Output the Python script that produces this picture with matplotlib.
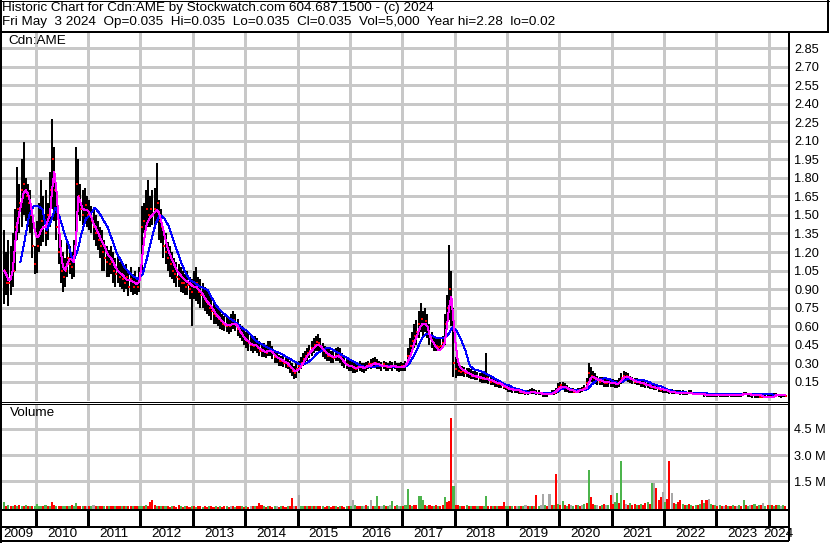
import numpy as np
import matplotlib
matplotlib.use('Agg')
import matplotlib.pyplot as plt
from matplotlib.lines import Line2D

plt.rcParams['font.family'] = ['Liberation Sans', 'DejaVu Sans']

# ---- data, semi-monthly bars from late May 2009 to early May 2024 ----
first_half_month = 9   # index of first bar within 2009 (0 = early Jan)

high = [
    1.38, 1.20, 1.30, 1.25, 1.35, 1.55, 1.89, 1.75, 1.95, 2.09, 1.80, 1.75, 1.70, 1.50, 1.25,  # 2009
    1.45, 1.60, 1.78, 1.65, 1.70, 1.60, 1.85, 2.28, 2.05, 1.75, 1.45, 1.30, 1.20, 1.15, 1.27, 1.25, 1.20, 1.30, 2.05, 1.95, 1.75, 1.70, 1.72, 1.65,  # 2010
    1.62, 1.57, 1.55, 1.50, 1.45, 1.40, 1.38, 1.30, 1.25, 1.22, 1.25, 1.20, 1.15, 1.18, 1.12, 1.10, 1.08, 1.10, 1.05, 1.08, 1.02, 1.05, 1.00, 1.08,  # 2011
    1.57, 1.60, 1.70, 1.78, 1.65, 1.70, 1.72, 1.92, 1.62, 1.55, 1.40, 1.35, 1.28, 1.25, 1.20, 1.15, 1.12, 1.10, 1.08, 1.05, 1.02, 1.05, 1.00, 0.98,  # 2012
    1.05, 1.08, 1.00, 0.98, 0.95, 0.92, 0.90, 0.88, 0.85, 0.80, 0.78, 0.75, 0.72, 0.70, 0.68, 0.68, 0.66, 0.70, 0.72, 0.70, 0.66, 0.62, 0.60, 0.58,  # 2013
    0.55, 0.55, 0.52, 0.50, 0.52, 0.50, 0.48, 0.45, 0.46, 0.45, 0.48, 0.48, 0.44, 0.40, 0.38, 0.37, 0.36, 0.36, 0.35, 0.34, 0.32, 0.30, 0.28, 0.30,  # 2014
    0.32, 0.35, 0.38, 0.40, 0.42, 0.45, 0.48, 0.50, 0.52, 0.54, 0.50, 0.46, 0.44, 0.42, 0.42, 0.40, 0.40, 0.42, 0.43, 0.42, 0.38, 0.36, 0.34, 0.33,  # 2015
    0.33, 0.32, 0.30, 0.31, 0.32, 0.30, 0.30, 0.31, 0.32, 0.33, 0.34, 0.35, 0.33, 0.32, 0.31, 0.32, 0.31, 0.30, 0.32, 0.31, 0.32, 0.30, 0.30, 0.31,  # 2016
    0.30, 0.32, 0.42, 0.50, 0.55, 0.62, 0.65, 0.72, 0.79, 0.72, 0.75, 0.70, 0.62, 0.55, 0.52, 0.50, 0.50, 0.50, 0.52, 0.70, 0.85, 1.26, 1.05, 0.75,  # 2017
    0.35, 0.30, 0.28, 0.28, 0.27, 0.26, 0.26, 0.25, 0.24, 0.24, 0.23, 0.22, 0.22, 0.21, 0.38, 0.20, 0.19, 0.18, 0.17, 0.17, 0.16, 0.15, 0.14, 0.13,  # 2018
    0.12, 0.11, 0.11, 0.10, 0.10, 0.09, 0.09, 0.08, 0.08, 0.08, 0.09, 0.10, 0.09, 0.08, 0.08, 0.07, 0.07, 0.07, 0.07, 0.07, 0.08, 0.08, 0.10, 0.14,  # 2019
    0.15, 0.15, 0.14, 0.12, 0.11, 0.10, 0.10, 0.09, 0.10, 0.10, 0.11, 0.12, 0.18, 0.30, 0.27, 0.24, 0.22, 0.20, 0.19, 0.19, 0.18, 0.17, 0.18, 0.17,  # 2020
    0.17, 0.16, 0.16, 0.18, 0.22, 0.24, 0.23, 0.22, 0.20, 0.19, 0.18, 0.18, 0.17, 0.16, 0.16, 0.15, 0.14, 0.14, 0.13, 0.12, 0.12, 0.11, 0.10, 0.10,  # 2021
    0.10, 0.09, 0.09, 0.09, 0.08, 0.08, 0.08, 0.08, 0.08, 0.07, 0.07, 0.08, 0.08, 0.07, 0.07, 0.07, 0.06, 0.06, 0.06, 0.06, 0.06, 0.06, 0.06, 0.06,  # 2022
    0.05, 0.05, 0.05, 0.05, 0.05, 0.05, 0.05, 0.05, 0.05, 0.05, 0.05, 0.06, 0.07, 0.07, 0.06, 0.06, 0.05, 0.05, 0.05, 0.05, 0.04, 0.04, 0.04, 0.04,  # 2023
    0.05, 0.05, 0.06, 0.06, 0.05, 0.05, 0.05, 0.04,  # 2024
]

low = [
    0.78, 0.85, 0.76, 0.85, 0.92, 1.05, 1.30, 1.35, 1.40, 1.50, 1.45, 1.40, 1.35, 1.15, 1.02,  # 2009
    1.03, 1.20, 1.25, 1.28, 1.25, 1.30, 1.40, 1.55, 1.45, 1.30, 1.10, 0.95, 0.88, 0.92, 1.00, 1.02, 0.98, 1.00, 1.30, 1.50, 1.45, 1.42, 1.45, 1.40,  # 2010
    1.38, 1.35, 1.30, 1.25, 1.22, 1.15, 1.05, 1.05, 1.00, 1.00, 1.02, 0.95, 0.92, 0.95, 0.92, 0.90, 0.88, 0.90, 0.84, 0.88, 0.85, 0.86, 0.85, 0.88,  # 2011
    1.05, 1.35, 1.38, 1.40, 1.40, 1.42, 1.40, 1.45, 1.30, 1.27, 1.15, 1.10, 1.05, 1.00, 0.98, 0.95, 0.92, 0.92, 0.88, 0.87, 0.85, 0.85, 0.82, 0.60,  # 2012
    0.82, 0.80, 0.78, 0.75, 0.75, 0.72, 0.70, 0.68, 0.65, 0.62, 0.62, 0.60, 0.58, 0.57, 0.56, 0.55, 0.54, 0.55, 0.58, 0.56, 0.52, 0.50, 0.48, 0.45,  # 2013
    0.42, 0.40, 0.40, 0.38, 0.40, 0.38, 0.36, 0.35, 0.35, 0.34, 0.36, 0.36, 0.33, 0.30, 0.30, 0.28, 0.28, 0.27, 0.26, 0.25, 0.22, 0.20, 0.17, 0.18,  # 2014
    0.22, 0.25, 0.28, 0.30, 0.32, 0.34, 0.36, 0.38, 0.40, 0.40, 0.38, 0.35, 0.33, 0.32, 0.32, 0.30, 0.30, 0.32, 0.32, 0.30, 0.28, 0.26, 0.25, 0.24,  # 2015
    0.24, 0.22, 0.22, 0.23, 0.24, 0.23, 0.22, 0.24, 0.25, 0.25, 0.26, 0.26, 0.25, 0.25, 0.24, 0.25, 0.24, 0.24, 0.25, 0.24, 0.25, 0.24, 0.23, 0.24,  # 2016
    0.24, 0.24, 0.28, 0.34, 0.38, 0.42, 0.45, 0.50, 0.55, 0.52, 0.55, 0.50, 0.45, 0.42, 0.40, 0.40, 0.40, 0.40, 0.42, 0.45, 0.58, 0.65, 0.60, 0.19,  # 2017
    0.18, 0.20, 0.20, 0.20, 0.19, 0.19, 0.18, 0.17, 0.17, 0.16, 0.16, 0.15, 0.14, 0.14, 0.14, 0.13, 0.12, 0.12, 0.11, 0.11, 0.10, 0.10, 0.09, 0.08,  # 2018
    0.07, 0.07, 0.06, 0.06, 0.06, 0.05, 0.05, 0.05, 0.04, 0.04, 0.05, 0.05, 0.05, 0.04, 0.04, 0.04, 0.03, 0.03, 0.03, 0.04, 0.04, 0.04, 0.05, 0.06,  # 2019
    0.08, 0.08, 0.07, 0.07, 0.06, 0.06, 0.06, 0.06, 0.06, 0.06, 0.07, 0.08, 0.09, 0.14, 0.15, 0.14, 0.13, 0.12, 0.12, 0.12, 0.11, 0.11, 0.11, 0.11,  # 2020
    0.11, 0.10, 0.10, 0.11, 0.13, 0.15, 0.16, 0.15, 0.14, 0.13, 0.13, 0.12, 0.12, 0.11, 0.11, 0.10, 0.10, 0.09, 0.09, 0.08, 0.08, 0.07, 0.07, 0.06,  # 2021
    0.06, 0.06, 0.05, 0.05, 0.05, 0.05, 0.05, 0.04, 0.04, 0.04, 0.04, 0.05, 0.05, 0.04, 0.04, 0.04, 0.04, 0.04, 0.03, 0.03, 0.03, 0.03, 0.03, 0.03,  # 2022
    0.03, 0.03, 0.03, 0.03, 0.03, 0.03, 0.03, 0.03, 0.03, 0.03, 0.03, 0.03, 0.04, 0.04, 0.03, 0.03, 0.02, 0.02, 0.02, 0.02, 0.02, 0.02, 0.02, 0.02,  # 2023
    0.02, 0.02, 0.03, 0.03, 0.03, 0.02, 0.03, 0.03,  # 2024
]

close = [
    1.05, 0.95, 0.95, 1.00, 1.05, 1.40, 1.55, 1.60, 1.70, 1.75, 1.65, 1.60, 1.50, 1.25, 1.10,  # 2009
    1.25, 1.35, 1.45, 1.40, 1.35, 1.50, 1.70, 1.95, 1.70, 1.40, 1.20, 1.05, 1.00, 1.05, 1.15, 1.10, 1.08, 1.15, 1.75, 1.65, 1.55, 1.50, 1.58, 1.50,  # 2010
    1.50, 1.45, 1.40, 1.35, 1.30, 1.25, 1.20, 1.15, 1.12, 1.10, 1.12, 1.05, 1.02, 1.05, 1.00, 0.98, 0.95, 1.00, 0.92, 0.98, 0.92, 0.95, 0.92, 1.00,  # 2011
    1.40, 1.45, 1.55, 1.50, 1.55, 1.50, 1.55, 1.60, 1.45, 1.40, 1.25, 1.20, 1.15, 1.10, 1.05, 1.02, 1.00, 0.98, 0.95, 0.95, 0.92, 0.93, 0.90, 0.88,  # 2012
    0.92, 0.95, 0.88, 0.85, 0.85, 0.80, 0.78, 0.75, 0.72, 0.70, 0.68, 0.66, 0.64, 0.62, 0.61, 0.60, 0.60, 0.62, 0.65, 0.62, 0.58, 0.55, 0.52, 0.50,  # 2013
    0.48, 0.46, 0.45, 0.44, 0.45, 0.42, 0.40, 0.40, 0.40, 0.38, 0.42, 0.40, 0.38, 0.35, 0.34, 0.32, 0.32, 0.30, 0.30, 0.28, 0.26, 0.24, 0.22, 0.25,  # 2014
    0.28, 0.30, 0.33, 0.36, 0.38, 0.40, 0.42, 0.45, 0.47, 0.46, 0.43, 0.40, 0.38, 0.36, 0.36, 0.35, 0.34, 0.36, 0.37, 0.35, 0.32, 0.30, 0.29, 0.28,  # 2015
    0.28, 0.26, 0.25, 0.27, 0.28, 0.26, 0.26, 0.28, 0.29, 0.29, 0.30, 0.30, 0.29, 0.28, 0.28, 0.29, 0.27, 0.27, 0.28, 0.28, 0.28, 0.27, 0.27, 0.28,  # 2016
    0.27, 0.28, 0.36, 0.44, 0.48, 0.52, 0.55, 0.62, 0.66, 0.62, 0.64, 0.58, 0.52, 0.48, 0.45, 0.44, 0.43, 0.44, 0.46, 0.62, 0.75, 0.90, 0.80, 0.30,  # 2017
    0.25, 0.24, 0.23, 0.24, 0.22, 0.22, 0.21, 0.20, 0.20, 0.19, 0.19, 0.18, 0.17, 0.17, 0.18, 0.16, 0.15, 0.15, 0.14, 0.13, 0.13, 0.12, 0.11, 0.10,  # 2018
    0.09, 0.09, 0.08, 0.08, 0.08, 0.07, 0.07, 0.06, 0.06, 0.06, 0.07, 0.07, 0.07, 0.06, 0.06, 0.05, 0.05, 0.05, 0.05, 0.05, 0.06, 0.06, 0.08, 0.11,  # 2019
    0.12, 0.11, 0.10, 0.09, 0.08, 0.08, 0.07, 0.07, 0.08, 0.08, 0.09, 0.10, 0.14, 0.22, 0.20, 0.18, 0.17, 0.16, 0.15, 0.16, 0.14, 0.14, 0.15, 0.14,  # 2020
    0.14, 0.13, 0.13, 0.15, 0.18, 0.20, 0.20, 0.19, 0.17, 0.16, 0.15, 0.15, 0.14, 0.14, 0.13, 0.13, 0.12, 0.11, 0.11, 0.10, 0.10, 0.09, 0.08, 0.08,  # 2021
    0.08, 0.08, 0.07, 0.07, 0.07, 0.06, 0.06, 0.06, 0.06, 0.06, 0.06, 0.06, 0.06, 0.05, 0.05, 0.05, 0.05, 0.05, 0.05, 0.04, 0.04, 0.04, 0.04, 0.04,  # 2022
    0.04, 0.04, 0.04, 0.04, 0.04, 0.04, 0.04, 0.04, 0.04, 0.04, 0.04, 0.05, 0.05, 0.05, 0.05, 0.04, 0.04, 0.04, 0.04, 0.03, 0.03, 0.03, 0.03, 0.03,  # 2023
    0.03, 0.03, 0.04, 0.04, 0.04, 0.04, 0.04, 0.035,  # 2024
]

# short moving average (magenta), same semi-monthly dates
ma_short = [
    1.05, 1.02, 0.97, 0.98, 1.05, 1.25, 1.42, 1.52, 1.60, 1.68, 1.70, 1.67, 1.60, 1.50, 1.38,  # 2009
    1.32, 1.33, 1.38, 1.40, 1.40, 1.45, 1.50, 1.70, 1.85, 1.70, 1.45, 1.20, 1.08, 1.05, 1.10, 1.14, 1.14, 1.12, 1.30, 1.65, 1.60, 1.55, 1.54, 1.54,  # 2010
    1.52, 1.48, 1.43, 1.40, 1.36, 1.32, 1.28, 1.25, 1.20, 1.17, 1.15, 1.12, 1.08, 1.05, 1.03, 1.02, 1.00, 0.98, 0.97, 0.97, 0.96, 0.95, 0.94, 0.96,  # 2011
    1.10, 1.27, 1.40, 1.45, 1.48, 1.50, 1.52, 1.54, 1.52, 1.45, 1.38, 1.30, 1.23, 1.18, 1.14, 1.10, 1.06, 1.03, 1.01, 0.99, 0.97, 0.96, 0.95, 0.93,  # 2012
    0.92, 0.92, 0.90, 0.88, 0.86, 0.83, 0.80, 0.78, 0.76, 0.73, 0.70, 0.68, 0.66, 0.64, 0.62, 0.61, 0.61, 0.61, 0.62, 0.62, 0.60, 0.57, 0.54, 0.51,  # 2013
    0.49, 0.48, 0.46, 0.45, 0.45, 0.44, 0.42, 0.41, 0.40, 0.39, 0.40, 0.40, 0.39, 0.37, 0.35, 0.34, 0.33, 0.32, 0.31, 0.30, 0.28, 0.26, 0.24, 0.24,  # 2014
    0.25, 0.27, 0.30, 0.33, 0.36, 0.38, 0.40, 0.42, 0.44, 0.45, 0.44, 0.42, 0.40, 0.38, 0.37, 0.36, 0.35, 0.35, 0.36, 0.35, 0.33, 0.31, 0.29, 0.28,  # 2015
    0.28, 0.27, 0.26, 0.26, 0.27, 0.27, 0.26, 0.27, 0.28, 0.28, 0.29, 0.30, 0.29, 0.29, 0.28, 0.28, 0.28, 0.27, 0.27, 0.28, 0.28, 0.27, 0.27, 0.27,  # 2016
    0.27, 0.28, 0.31, 0.35, 0.40, 0.46, 0.51, 0.56, 0.60, 0.62, 0.62, 0.60, 0.53, 0.49, 0.46, 0.43, 0.41, 0.41, 0.43, 0.46, 0.60, 0.75, 0.84, 0.65,  # 2017
    0.45, 0.32, 0.27, 0.25, 0.24, 0.23, 0.22, 0.21, 0.20, 0.20, 0.19, 0.19, 0.18, 0.18, 0.17, 0.17, 0.16, 0.16, 0.15, 0.14, 0.14, 0.13, 0.12, 0.11,  # 2018
    0.10, 0.09, 0.09, 0.08, 0.08, 0.08, 0.07, 0.07, 0.06, 0.06, 0.06, 0.07, 0.07, 0.06, 0.06, 0.06, 0.05, 0.05, 0.05, 0.05, 0.05, 0.06, 0.07, 0.09,  # 2019
    0.10, 0.11, 0.11, 0.10, 0.09, 0.08, 0.08, 0.07, 0.07, 0.08, 0.08, 0.09, 0.10, 0.14, 0.18, 0.19, 0.18, 0.17, 0.16, 0.16, 0.15, 0.15, 0.15, 0.14,  # 2020
    0.14, 0.14, 0.13, 0.14, 0.16, 0.18, 0.19, 0.19, 0.18, 0.17, 0.16, 0.15, 0.15, 0.14, 0.14, 0.13, 0.12, 0.12, 0.11, 0.11, 0.10, 0.10, 0.09, 0.09,  # 2021
    0.08, 0.08, 0.07, 0.07, 0.07, 0.06, 0.06, 0.06, 0.06, 0.06, 0.06, 0.06, 0.06, 0.05, 0.05, 0.05, 0.05, 0.05, 0.05, 0.04, 0.04, 0.04, 0.04, 0.04,  # 2022
    0.04, 0.04, 0.04, 0.04, 0.04, 0.04, 0.04, 0.04, 0.04, 0.04, 0.04, 0.04, 0.05, 0.05, 0.05, 0.05, 0.04, 0.04, 0.04, 0.04, 0.04, 0.03, 0.03, 0.03,  # 2023
    0.03, 0.03, 0.03, 0.04, 0.04, 0.04, 0.04, 0.04,  # 2024
]

# long moving average (blue), monthly from Sep 2009 to Apr 2024
first_month = 8
ma_long = [
    1.12, 1.30, 1.50, 1.57,  # 2009
    1.57, 1.55, 1.38, 1.45, 1.56, 1.48, 1.36, 1.26, 1.12, 1.20, 1.35, 1.47,  # 2010
    1.50, 1.56, 1.52, 1.46, 1.40, 1.30, 1.20, 1.13, 1.07, 1.03, 1.00, 0.98,  # 2011
    1.02, 1.15, 1.30, 1.43, 1.50, 1.47, 1.41, 1.30, 1.20, 1.10, 1.02, 0.97,  # 2012
    0.95, 0.92, 0.91, 0.89, 0.82, 0.76, 0.72, 0.69, 0.66, 0.64, 0.61, 0.58,  # 2013
    0.56, 0.52, 0.48, 0.46, 0.44, 0.42, 0.40, 0.39, 0.37, 0.35, 0.33, 0.31,  # 2014
    0.29, 0.29, 0.31, 0.34, 0.38, 0.40, 0.42, 0.42, 0.40, 0.38, 0.36, 0.34,  # 2015
    0.32, 0.30, 0.28, 0.27, 0.27, 0.27, 0.28, 0.28, 0.28, 0.27, 0.27, 0.27,  # 2016
    0.27, 0.29, 0.35, 0.42, 0.50, 0.54, 0.53, 0.51, 0.50, 0.50, 0.53, 0.59,  # 2017
    0.56, 0.49, 0.40, 0.28, 0.25, 0.24, 0.23, 0.21, 0.19, 0.17, 0.15, 0.13,  # 2018
    0.12, 0.10, 0.09, 0.08, 0.07, 0.07, 0.06, 0.06, 0.06, 0.06, 0.06, 0.07,  # 2019
    0.09, 0.10, 0.09, 0.08, 0.08, 0.08, 0.09, 0.13, 0.16, 0.17, 0.18, 0.17,  # 2020
    0.15, 0.14, 0.15, 0.17, 0.17, 0.16, 0.16, 0.16, 0.15, 0.13, 0.12, 0.11,  # 2021
    0.09, 0.08, 0.07, 0.07, 0.07, 0.06, 0.06, 0.06, 0.06, 0.06, 0.05, 0.05,  # 2022
    0.05, 0.05, 0.05, 0.05, 0.05, 0.05, 0.05, 0.05, 0.05, 0.05, 0.05, 0.05,  # 2023
    0.05, 0.04, 0.04, 0.04,  # 2024
]

# volume in millions, same semi-monthly dates; colour code g=up r=down n=unchanged
volume = [
    0.30, 0.10, 0.12, 0.08, 0.10, 0.12, 0.10, 0.15, 0.10, 0.08, 0.12, 0.10, 0.08, 0.10, 0.08,  # 2009
    0.20, 0.08, 0.10, 0.06, 0.12, 0.08, 0.10, 0.30, 0.12, 0.08, 0.06, 0.10, 0.08, 0.06, 0.10, 0.08, 0.12, 0.10, 0.28, 0.10, 0.08, 0.10, 0.06, 0.08,  # 2010
    0.08, 0.10, 0.15, 0.06, 0.08, 0.10, 0.06, 0.08, 0.06, 0.10, 0.08, 0.06, 0.08, 0.06, 0.10, 0.08, 0.06, 0.08, 0.06, 0.10, 0.08, 0.06, 0.08, 0.10,  # 2011
    0.10, 0.08, 0.12, 0.10, 0.30, 0.43, 0.15, 0.08, 0.06, 0.08, 0.06, 0.08, 0.06, 0.05, 0.08, 0.06, 0.05, 0.15, 0.06, 0.05, 0.06, 0.08, 0.05, 0.06,  # 2012
    0.06, 0.05, 0.06, 0.08, 0.05, 0.06, 0.05, 0.06, 0.08, 0.05, 0.06, 0.05, 0.06, 0.05, 0.08, 0.06, 0.05, 0.06, 0.08, 0.05, 0.06, 0.10, 0.06, 0.05,  # 2013
    0.06, 0.05, 0.08, 0.06, 0.10, 0.06, 0.28, 0.12, 0.06, 0.05, 0.08, 0.06, 0.05, 0.06, 0.08, 0.05, 0.06, 0.08, 0.05, 0.06, 0.10, 0.55, 0.08, 0.06,  # 2014
    0.72, 0.10, 0.08, 0.06, 0.10, 0.08, 0.06, 0.08, 0.10, 0.06, 0.08, 0.06, 0.05, 0.08, 0.06, 0.05, 0.06, 0.08, 0.05, 0.06, 0.08, 0.05, 0.06, 0.08,  # 2015
    0.10, 0.45, 0.12, 0.08, 0.06, 0.10, 0.08, 0.12, 0.08, 0.40, 0.10, 0.08, 0.65, 0.10, 0.08, 0.12, 0.10, 0.08, 0.12, 0.35, 0.10, 0.12, 0.08, 0.10,  # 2016
    0.10, 0.12, 1.07, 0.15, 0.10, 0.12, 0.15, 0.65, 0.66, 0.40, 0.12, 0.10, 0.15, 0.10, 0.08, 0.12, 0.10, 0.08, 0.15, 0.60, 0.30, 0.35, 5.10, 1.25,  # 2017
    0.15, 0.12, 0.10, 0.08, 0.10, 0.12, 0.08, 0.10, 0.06, 0.08, 0.10, 0.06, 0.08, 0.10, 0.65, 0.10, 0.08, 0.06, 0.10, 0.08, 0.06, 0.10, 0.30, 0.08,  # 2018
    0.06, 0.08, 0.10, 0.06, 0.08, 0.10, 0.06, 0.08, 0.15, 0.10, 0.08, 0.06, 0.10, 0.70, 0.10, 0.12, 0.75, 0.15, 0.10, 0.78, 0.12, 0.15, 1.93, 0.20,  # 2019
    0.15, 0.35, 0.12, 0.10, 0.20, 0.12, 0.10, 0.15, 0.12, 0.10, 0.15, 0.20, 0.25, 2.16, 0.60, 0.20, 0.15, 0.12, 0.10, 0.15, 0.20, 0.12, 0.15, 0.70,  # 2020
    0.20, 0.30, 0.80, 0.25, 2.68, 0.40, 0.20, 0.15, 0.25, 0.15, 0.20, 0.15, 0.12, 0.20, 0.15, 0.25, 0.30, 0.20, 1.37, 1.42, 1.10, 0.40, 0.60, 0.90,  # 2021
    0.30, 0.50, 2.68, 0.80, 0.25, 0.20, 0.30, 0.45, 0.20, 0.15, 0.12, 0.20, 0.15, 0.10, 0.12, 0.15, 0.20, 0.45, 0.25, 0.45, 0.50, 0.20, 0.15, 0.12,  # 2022
    0.10, 0.12, 0.08, 0.10, 0.12, 0.10, 0.08, 0.12, 0.10, 0.08, 0.12, 0.10, 0.45, 0.12, 0.10, 0.15, 0.12, 0.20, 0.10, 0.15, 0.12, 0.25, 0.10, 0.12,  # 2023
    0.12, 0.15, 0.10, 0.12, 0.15, 0.10, 0.12, 0.08,  # 2024
]

vol_dir = (
    "grgrgrgrgrgrgrg"            # 2009
    "gggrgrgrrgrrggrgrggrrgrn"   # 2010
    "rgnrgrrgrgrrgrrgrgrrgrrg"   # 2011
    "grgrrrrgrgrgrrgrrrgrgrrg"   # 2012
    "rgrrgrrgrrgrgrrgrnrgrrgr"   # 2013
    "grnrgrrrgrgrrgnrgrrgrrnr"   # 2014
    "nggrgrgrgrrgrrgrrgrgrrgr"   # 2015
    "gngrrgnrgnrggrngrgngrgng"   # 2016
    "rggrgrrgggrgrrgrgrrgrrrg"   # 2017
    "rrgrrgrgrrgrrggrrgrgrrrg"   # 2018
    "grgrngrgnrgrgrgnngrnrgrg"   # 2019
    "rgrgrngrgrngrgrrgnrgrngr"   # 2020
    "rggrgrnrgrrgrgrrgrgnrrrn"   # 2021
    "grrnrgrrgrgrgrgrgrgrngrg"   # 2022
    "rgrnrgrgrngrgrgnrgrgrngr"   # 2023
    "grgrgngr"                   # 2024
)

years = list(range(2009, 2025))
price_ticks = [0.15, 0.30, 0.45, 0.60, 0.75, 0.90, 1.05, 1.20, 1.35, 1.50, 1.65,
               1.80, 1.95, 2.10, 2.25, 2.40, 2.55, 2.70, 2.85]
vol_ticks = [1.5, 3.0, 4.5]
vol_tick_labels = ['1.5 M', '3.0 M', '4.5 M']

header1 = "Historic Chart for Cdn:AME by Stockwatch.com 604.687.1500 - (c) 2024"
header2 = ("Fri May  3 2024  Op=0.035  Hi=0.035  Lo=0.035  Cl=0.035  "
           "Vol=5,000  Year hi=2.28  lo=0.02")

# ---- layout in pixels ----
W, H = 830, 543
DPI = 100
PT = 72.0 / DPI   # points per pixel
FS = 9.7


def fx(px):
    return px / W


def fy(py):
    return 1 - py / H


X0, X1 = 2009.356, 2024.378
dt = 1.0 / 24
t_bar = 2009 + (np.arange(first_half_month, first_half_month + len(close)) + 0.5) / 24
t_ma = 2009 + (np.arange(first_month, first_month + len(ma_long)) + 0.5) / 12
col_map = {'g': '#4cb44c', 'r': '#ff0000', 'n': '#a8a8a8'}
vol_colors = [col_map[c] for c in vol_dir]

fig = plt.figure(figsize=(W / DPI, H / DPI), dpi=DPI)
fig.patch.set_facecolor('white')

left, right = 2, 788.5
ax_p = fig.add_axes([fx(left), fy(401), fx(right) - fx(left), fy(33) - fy(401)])
ax_v = fig.add_axes([fx(left), fy(509.5), fx(right) - fx(left), fy(403.5) - fy(509.5)])
ax_y = fig.add_axes([fx(left), fy(540), fx(right) - fx(left), fy(510) - fy(540)])

grid_kw = dict(color='#c8c8c8', lw=1.2 * PT, antialiased=False)

for ax in (ax_p, ax_v, ax_y):
    ax.set_xlim(X0, X1)
    for s in ax.spines.values():
        s.set_visible(False)
    ax.set_facecolor('none')

# price panel
ax_p.set_ylim(-0.006, 2.973)
ax_p.set_xticks(years[1:])
ax_p.set_yticks(price_ticks)
ax_p.set_yticklabels([f'{v:.2f}' for v in price_ticks])
ax_p.yaxis.tick_right()
ax_p.tick_params(axis='y', length=0, pad=4.2, labelsize=9.2)
ax_p.tick_params(axis='x', length=0, labelbottom=False)
ax_p.grid(True, **grid_kw)
ax_p.set_axisbelow(True)

ax_p.vlines(t_bar, low, high, color='black', lw=1.5 * PT, antialiased=False, zorder=2)
ax_p.plot(t_bar + 0.35 * dt, close, linestyle='none', marker='s', markersize=2.6 * PT,
          markeredgewidth=0, color='#ff0000', zorder=3)
ax_p.plot(t_ma, ma_long, color='#0000ff', lw=1.0 * PT, antialiased=False, zorder=4)
ax_p.plot(t_bar, ma_short, color='#ff00ff', lw=1.0 * PT, antialiased=False, zorder=5)

# volume panel
ax_v.set_ylim(-0.12, 5.95)
ax_v.set_xticks(years[1:])
ax_v.set_yticks(vol_ticks)
ax_v.set_yticklabels(vol_tick_labels)
ax_v.yaxis.tick_right()
ax_v.tick_params(axis='y', length=0, pad=4.2, labelsize=9.2)
ax_v.tick_params(axis='x', length=0, labelbottom=False)
ax_v.grid(True, **grid_kw)
ax_v.set_axisbelow(True)
ax_v.bar(t_bar, np.array(volume) + 0.12, bottom=-0.12, width=dt * 0.95,
         color=vol_colors, linewidth=0, antialiased=False, zorder=2)

# year strip
ax_y.set_ylim(0, 1)
ax_y.set_xticks([])
ax_y.set_yticks([])
ax_y.vlines(years[1:], 0.44, 1, color='black', lw=1.2 * PT, antialiased=False)
for y in years:
    a = max(y, X0)
    b = min(y + 1, X1)
    ax_y.text((a + b) / 2, 0.2, str(y), ha='center', va='center', fontsize=FS)

# header and panel labels
fig.text(fx(2), fy(7.5), header1, ha='left', va='center', fontsize=FS)
fig.text(fx(2), fy(22.5), header2, ha='left', va='center', fontsize=FS)
fig.text(fx(8.5), fy(41.5), 'Cdn:AME', ha='left', va='center', fontsize=FS)
fig.text(fx(9.5), fy(413), 'Volume', ha='left', va='center', fontsize=FS)


def frame_line(x_a, y_a, x_b, y_b, width):
    fig.add_artist(Line2D([fx(x_a), fx(x_b)], [fy(y_a), fy(y_b)], transform=fig.transFigure,
                          color='black', lw=width * PT, antialiased=False, solid_capstyle='butt'))


frame_line(1, 0, 1, 543, 2)          # left edge
frame_line(0, 0.5, 829, 0.5, 1)      # top
frame_line(828, 0, 828, 32, 2)       # header right
frame_line(0, 31.5, 829, 31.5, 2)    # header bottom
frame_line(788.5, 31, 788.5, 541, 2) # axis column
frame_line(0, 401.5, 789, 401.5, 1)  # price bottom
frame_line(0, 403.5, 789, 403.5, 1)  # volume top
frame_line(0, 510, 789, 510, 2)
frame_line(0, 527, 789, 527, 2)
frame_line(0, 540.5, 789, 540.5, 2)

fig.savefig('out.png', dpi=DPI)
